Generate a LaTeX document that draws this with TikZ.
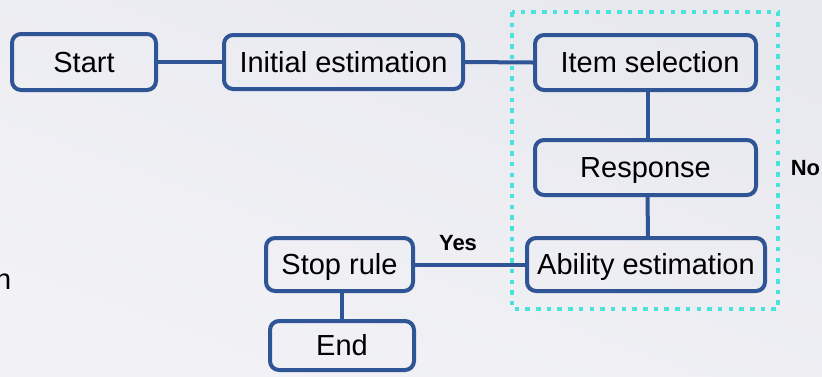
\documentclass[tikz,border=0pt]{standalone}
\usepackage{fontspec}
\setmainfont{Liberation Sans}
\definecolor{boxblue}{HTML}{2F5597}
\definecolor{turq}{HTML}{48E3DA}
\definecolor{bgtop}{HTML}{E8E9EF}
\definecolor{bgbot}{HTML}{F2F2F6}
\begin{document}
\begin{tikzpicture}[x=1pt,y=-1pt,
  box/.style={draw=boxblue, line width=4pt, rounded corners=9pt, fill=none,
    inner sep=0pt, font=\fontsize{29}{30}\selectfont, text height=20.8pt, text depth=0pt},
  conn/.style={draw=boxblue, line width=4pt},
  lbl/.style={inner sep=0pt, font=\fontsize{22}{24}\selectfont\bfseries, text height=15.8pt, text depth=0pt},
  dotbox/.style={draw=turq, line width=4.5pt, dash pattern=on 4.5pt off 6.2pt}
]
\useasboundingbox (0,0) rectangle (822,376);
\shade[top color=bgtop, bottom color=bgbot, shading angle=-20] (0,0) rectangle (822,376);

\node[box, minimum width=144, minimum height=56] (start) at (84,62) {Start};
\node[box, minimum width=239, minimum height=54] (init) at (343.5,62) {Initial estimation};
\node[box, minimum width=221, minimum height=55] (item) at (645.5,62.5) {\hspace{9pt}Item selection};
\node[box, minimum width=221, minimum height=55] (resp) at (645.5,167.5) {Response};
\node[box, minimum width=238, minimum height=53] (abil) at (646,264.5) {Ability estimation};
\node[box, minimum width=147, minimum height=53] (stop) at (339.5,264.5) {Stop rule};
\node[box, minimum width=144, minimum height=49] (endn) at (342,345.5) {End};

\coordinate (dtl) at (512,12);
\coordinate (dbr) at (778,309);
\draw[dotbox] (dtl) rectangle (dbr);

\draw[conn] (start.east) -- (init.west);
\draw[conn] (init.east) -- (item.west);
\draw[conn] ([xshift=2.5pt]item.south) -- ([xshift=2.5pt]resp.north);
\draw[conn] ([xshift=2pt]resp.south) -- ([xshift=2pt]abil.north);
\draw[conn] (stop.east) -- (abil.west);
\draw[conn] (stop.south -| endn.north) -- (endn.north);

\node[lbl] (yes) at (458,243) {Yes};
\node[lbl] (no) at (805.5,167.5) {No};
\node[inner sep=0pt, anchor=base east, font=\fontsize{29}{30}\selectfont] (frag) at (11.5,289) {n};
\end{tikzpicture}
\end{document}
